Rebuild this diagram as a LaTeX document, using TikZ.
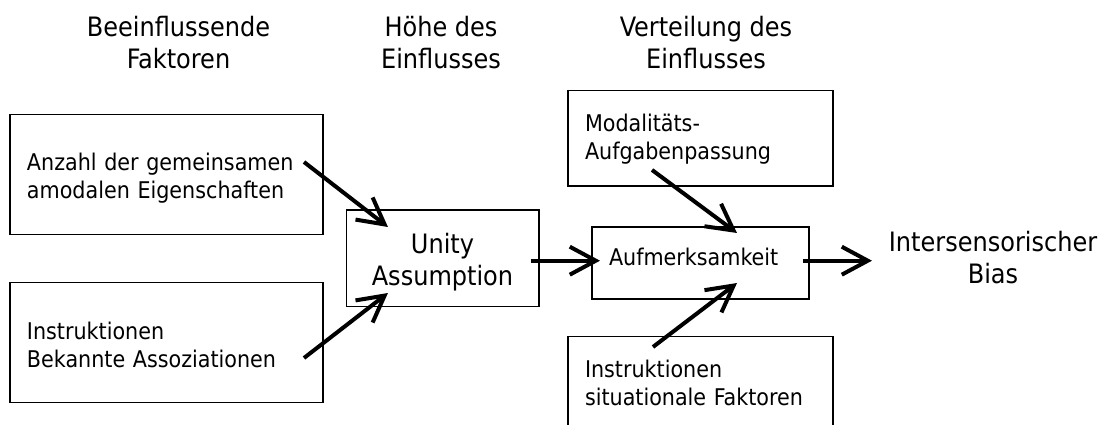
\documentclass[tikz,border=0pt]{standalone}
\usepackage{fontspec}
\setmainfont{DejaVu Sans Condensed}
\usetikzlibrary{arrows.meta}

\begin{document}
\begin{tikzpicture}[x=1pt, y=-1pt,
  kasten/.style={draw, line width=1.5pt, outer sep=0pt, inner xsep=17pt, inner ysep=0pt,
    align=left, font=\fontsize{23}{28}\selectfont, text height=20pt, text depth=27pt},
  kopf/.style={align=center, anchor=base, font=\fontsize{26.7}{32}\selectfont},
  pfeil/.style={-{Straight Barb[length=26pt,width=28pt]}, line width=4pt}]
\useasboundingbox (0,0) rectangle (1104,425);
\node[kopf] (k1) at (178.5,68.3) {Beeinflussende\\Faktoren};
\node[kopf] (k2) at (441,68.3) {Höhe des\\Einflusses};
\node[kopf] (k3) at (706,68.3) {Verteilung des\\Einflusses};
\node[kasten, text width=279pt, minimum height=120pt] (anz) at (166.5,174.5) {Anzahl der gemeinsamen\\amodalen Eigenschaften};
\node[kasten, text width=279pt, minimum height=120pt] (ins) at (166.5,342.7) {Instruktionen\\Bekannte Assoziationen};
\node[kasten, align=center, inner xsep=0pt, text width=192.5pt, minimum height=96.7pt,
  font=\fontsize{26.7}{32}\selectfont, text height=21pt, text depth=29.6pt] (unity) at (442.5,258.3) {Unity\\Assumption};
\node[kasten, text width=231pt, minimum height=95.3pt, text depth=33pt] (mod) at (700.5,138.3) {Modalitäts-\\Aufgabenpassung};
\node[kasten, text width=183pt, minimum height=72pt, text depth=14.6pt] (aufm) at (700.5,263) {Aufmerksamkeit};
\node[kasten, text width=231pt, minimum height=95.3pt, text depth=33pt] (sit) at (700.5,384.3) {Instruktionen\\situationale Faktoren};
\node[kopf] (bias) at (993,283) {Intersensorischer\\Bias};
\coordinate (biasein) at (872,260.7);
\draw[pfeil] ([xshift=-19pt,yshift=12.5pt]anz.east) to[] ([xshift=41.7pt,yshift=31.3pt]unity.west);
\draw[pfeil] ([xshift=-19pt,yshift=-15.3pt]ins.east) to[] ([xshift=41.7pt,yshift=-34.7pt]unity.west);
\draw[pfeil] ([xshift=-7.8pt,yshift=-2.4pt]unity.east) to[] ([xshift=8pt,yshift=2.3pt]aufm.west);
\draw[pfeil] ([xshift=-48.5pt,yshift=16pt]mod.south) to[] ([xshift=36.5pt,yshift=-6pt]aufm.north);
\draw[pfeil] ([xshift=-47.5pt,yshift=-10.3pt]sit.north) to[] ([xshift=36.5pt,yshift=16pt]aufm.south);
\draw[pfeil] ([xshift=-6pt,yshift=2.3pt]aufm.east) to[] (biasein);
\end{tikzpicture}
\end{document}
